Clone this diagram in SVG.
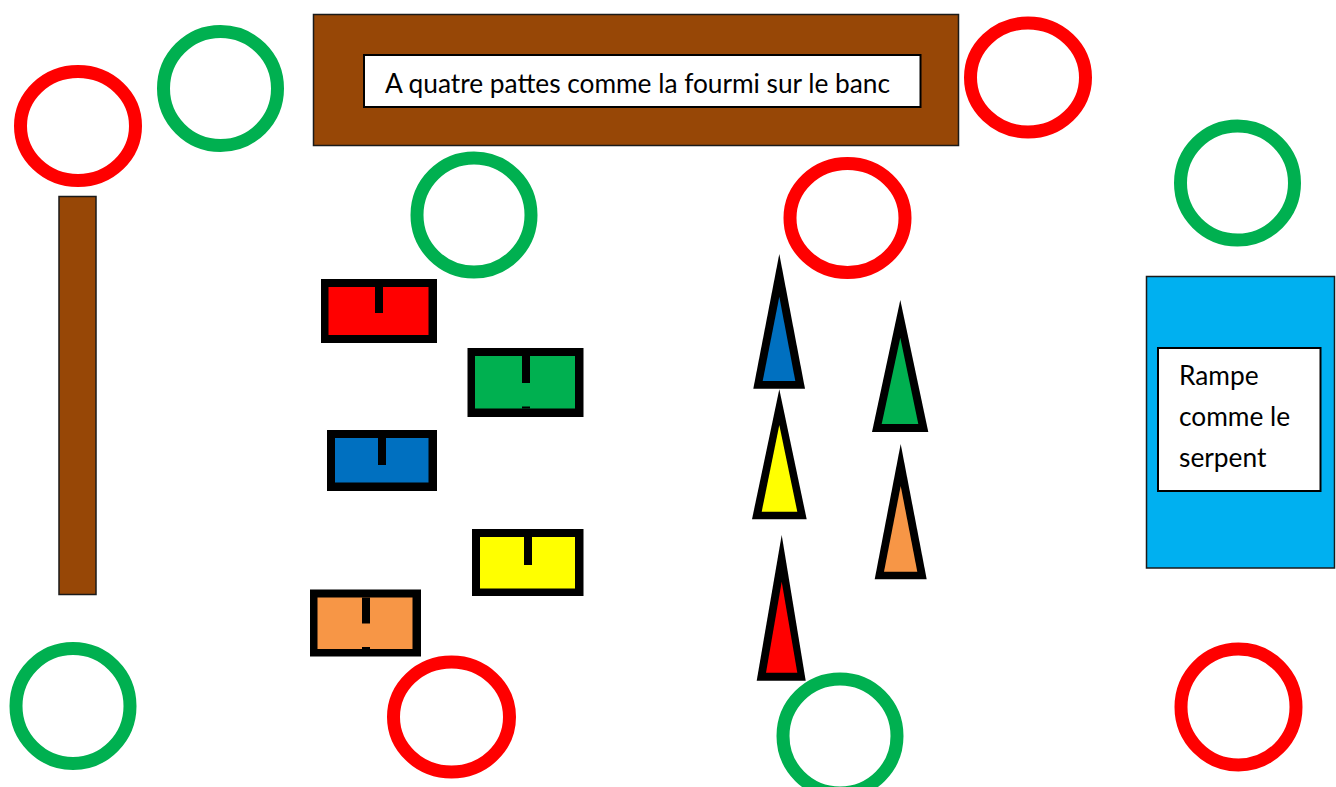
<svg xmlns="http://www.w3.org/2000/svg" width="1336" height="787" viewBox="0 0 1336 787">
<style>
.ring{fill:none;stroke-width:13}
.r{stroke:#FF0000}
.g{stroke:#00B050}
.blk{fill:#000000}
.brown{fill:#974706;stroke:#1a1a1a;stroke-width:1.5}
.label{fill:#ffffff;stroke:#000000;stroke-width:2}
.txt{font-family:Lato,"Liberation Sans",sans-serif;font-size:26.3px;fill:#000000}
</style>
<rect width="1336" height="787" fill="#ffffff"/>
<g id="bench">
<rect class="brown" x="313.5" y="14.5" width="645" height="131"/>
<rect class="label" x="364" y="55" width="556.5" height="52"/>
<text class="txt" x="385" y="93" textLength="505">A quatre pattes comme la fourmi sur le banc</text>
</g>
<g id="bar">
<rect class="brown" x="59" y="196.5" width="37" height="398"/>
</g>
<g id="ramp">
<rect x="1146.5" y="276.5" width="188" height="291.5" fill="#00B0F0" stroke="#1a1a1a" stroke-width="1.5"/>
<rect class="label" x="1158" y="348" width="162.5" height="143"/>
<text class="txt" x="1179" y="385">Rampe</text>
<text class="txt" x="1179" y="426">comme le</text>
<text class="txt" x="1179" y="467">serpent</text>
</g>
<g id="ring-red-1"><ellipse class="ring r" cx="78" cy="126" rx="57.5" ry="54.5"/></g>
<g id="ring-green-1"><ellipse class="ring g" cx="220.5" cy="88.5" rx="57" ry="57"/></g>
<g id="ring-green-2"><ellipse class="ring g" cx="474" cy="215" rx="57" ry="57"/></g>
<g id="ring-red-2"><ellipse class="ring r" cx="847.5" cy="218" rx="57.5" ry="54.5"/></g>
<g id="ring-red-3"><ellipse class="ring r" cx="1028" cy="77.5" rx="57.5" ry="54.5"/></g>
<g id="ring-green-3"><ellipse class="ring g" cx="1237.5" cy="183" rx="57" ry="57"/></g>
<g id="ring-green-4"><ellipse class="ring g" cx="73" cy="706" rx="57" ry="57.5"/></g>
<g id="ring-red-4"><ellipse class="ring r" cx="451.5" cy="717" rx="58" ry="55"/></g>
<g id="ring-green-5"><ellipse class="ring g" cx="840" cy="736" rx="57" ry="57"/></g>
<g id="ring-red-5"><ellipse class="ring r" cx="1238.5" cy="707" rx="57.5" ry="58"/></g>
<g id="box-red">
<rect class="blk" x="321" y="279" width="116" height="64"/>
<rect x="328.5" y="287" width="100" height="48" fill="#FF0000"/>
<rect class="blk" x="375" y="287" width="8" height="26"/>
</g>
<g id="box-green">
<rect class="blk" x="467.5" y="348" width="116" height="69"/>
<rect x="475" y="356" width="100" height="52.5" fill="#00B050"/>
<rect class="blk" x="522" y="356" width="8" height="27"/>
<rect class="blk" x="522" y="406.5" width="8" height="2"/>
</g>
<g id="box-blue">
<rect class="blk" x="327" y="430" width="110" height="61"/>
<rect x="335" y="438" width="93.5" height="44.5" fill="#0070C0"/>
<rect class="blk" x="378" y="438" width="8" height="27"/>
</g>
<g id="box-yellow">
<rect class="blk" x="472" y="529" width="111.5" height="67"/>
<rect x="480" y="537" width="95" height="51.5" fill="#FFFF00"/>
<rect class="blk" x="524" y="537" width="8" height="28"/>
</g>
<g id="box-orange">
<rect class="blk" x="310" y="589.5" width="111" height="67"/>
<rect x="317.5" y="597.5" width="95" height="51.5" fill="#F79646"/>
<rect class="blk" x="362" y="597.5" width="8" height="26"/>
<rect class="blk" x="362" y="647" width="8" height="2"/>
</g>
<g id="cone-blue">
<polygon class="blk" points="779.3,254 753.3,388.7 805,388.7"/>
<polygon points="779.3,296.7 762.7,381 795.3,381" fill="#0070C0"/>
</g>
<g id="cone-yellow">
<polygon class="blk" points="779.3,389.3 752,519.3 806.7,519.3"/>
<polygon points="779.3,425 761.7,511.7 797.3,511.7" fill="#FFFF00"/>
</g>
<g id="cone-red">
<polygon class="blk" points="781.7,535 756.7,680.7 805.7,680.7"/>
<polygon points="781.7,581.7 766,672.7 797.3,672.7" fill="#FF0000"/>
</g>
<g id="cone-green">
<polygon class="blk" points="900.3,300 872,432 928.3,432"/>
<polygon points="900.3,337.7 881.7,424 918.3,424" fill="#00B050"/>
</g>
<g id="cone-orange">
<polygon class="blk" points="900.7,444 874.7,579.3 926.7,579.3"/>
<polygon points="900.7,486 884,571.7 917.3,571.7" fill="#F79646"/>
</g>
<g id="connectors"/>
</svg>
